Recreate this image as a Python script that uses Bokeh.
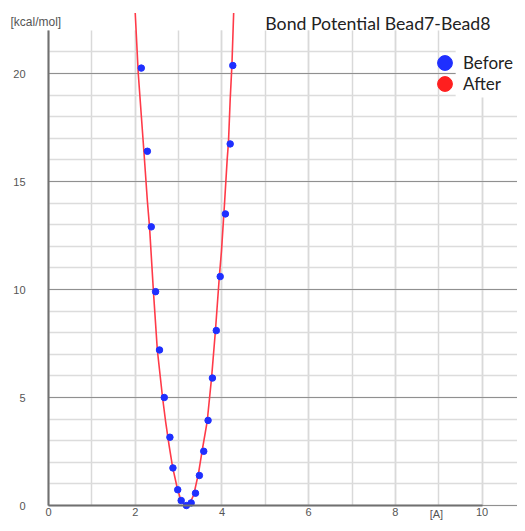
from bokeh.plotting import figure
from bokeh.models import FixedTicker, Label, Legend, LegendItem, Range1d, BoxAnnotation
from bokeh.embed import file_html
from bokeh.resources import INLINE

# Before: sampled bond potential (blue points)
x_before = [2.14, 2.28, 2.37, 2.47, 2.56, 2.67, 2.80, 2.87, 2.98, 3.06, 3.18,
            3.29, 3.39, 3.48, 3.58, 3.68, 3.78, 3.87, 3.96, 4.08, 4.19, 4.25]
y_before = [20.25, 16.4, 12.9, 9.9, 7.2, 5.0, 3.16, 1.74, 0.73, 0.23, 0.0,
            0.12, 0.57, 1.39, 2.51, 3.94, 5.9, 8.1, 10.6, 13.5, 16.74, 20.37]

# After: fitted potential (red curve)
x_after = [2.00, 2.07, 2.20, 2.28, 2.33, 2.42, 2.51, 2.63, 2.70, 2.78, 2.86,
           2.97, 3.06, 3.16, 3.26, 3.35, 3.46, 3.54, 3.66, 3.76, 3.85, 3.94,
           3.99, 4.06, 4.12, 4.15, 4.19, 4.23, 4.27]
y_after = [22.8, 20.0, 16.4, 14.1, 12.9, 9.9, 7.2, 5.0, 3.9, 2.8, 1.8,
           0.8, 0.2, 0.0, 0.1, 0.5, 1.5, 2.5, 3.9, 5.9, 8.1, 10.6,
           11.8, 14.0, 16.0, 16.8, 18.8, 20.4, 22.8]

x_ticks = [0, 2, 4, 6, 8, 10]
y_ticks = [0, 5, 10, 15, 20]
x_grid = list(range(0, 12))
y_grid = list(range(0, 22))

title_text = "Bond Potential Bead7-Bead8"
x_unit = "[A]"
y_unit = "[kcal/mol]"

p = figure(width=517, height=523, x_range=Range1d(-1.107, 10.816),
           y_range=Range1d(-0.833, 23.38),
           output_backend="svg", toolbar_location=None,
           min_border_left=0, min_border_right=0, min_border_top=0, min_border_bottom=0)
p.outline_line_color = None
p.background_fill_color = "white"
p.border_fill_color = "white"

p.xaxis.ticker = FixedTicker(ticks=x_ticks, minor_ticks=x_grid)
p.yaxis.ticker = FixedTicker(ticks=y_ticks, minor_ticks=y_grid)

for ax in (p.xaxis, p.yaxis):
    ax.fixed_location = 0
    ax.axis_line_color = "#707070"
    ax.axis_line_width = 2
    ax.major_tick_line_color = None
    ax.minor_tick_line_color = None
    ax.major_tick_out = 0
    ax.major_tick_in = 0
    ax.minor_tick_out = 0
    ax.minor_tick_in = 0
    ax.major_label_text_font = "Liberation Sans"
    ax.major_label_text_font_size = "11px"
    ax.major_label_text_color = "#555555"
p.xaxis.bounds = (0, 10)
p.yaxis.bounds = (0, 22)
p.xaxis.major_label_standoff = 2
p.yaxis.major_label_standoff = 23

p.xgrid.grid_line_color = "#d9d9d9"
p.xgrid.grid_line_width = 1.5
p.xgrid.minor_grid_line_color = "#d9d9d9"
p.xgrid.minor_grid_line_width = 1.5
p.ygrid.grid_line_color = "#909090"
p.ygrid.grid_line_width = 1.2
p.ygrid.minor_grid_line_color = "#dcdcdc"
p.ygrid.minor_grid_line_width = 1.5

p.xgrid.cross_bounds = (0, 22)
p.ygrid.cross_bounds = (0, 11)

# white patch behind the legend text (covers grid only)
p.add_layout(BoxAnnotation(left=9.39, bottom=18.89, fill_color="white", fill_alpha=1,
                           line_alpha=0, level="underlay"))

after_line = p.line(x_after, y_after, line_color="#ff3a48", line_width=1.6)
after_dot = p.scatter(x_after, y_after, size=6, color="#ff1f1f", visible=False)
before_pts = p.scatter(x_before, y_before, size=6.5, color="#1f2fff")

common = dict(glyph_width=37, glyph_height=37, label_text_font="Lato",
              label_text_font_size="17px", label_text_color="#222222",
              label_standoff=0, padding=0, margin=0,
              background_fill_alpha=0, border_line_alpha=0)
leg1 = Legend(items=[LegendItem(label="Before", renderers=[before_pts])],
              location=(426, 442), **common)
leg2 = Legend(items=[LegendItem(label="After", renderers=[after_dot])],
              location=(426, 421), **common)
p.add_layout(leg1, "center")
p.add_layout(leg2, "center")

p.add_layout(Label(x=5.0, y=22.31, text=title_text, text_font="Lato",
                   text_font_size="17.7px", text_color="#222222",
                   text_baseline="middle", text_align="left"))
p.add_layout(Label(x=-0.876, y=22.4, text=y_unit, text_font="Liberation Sans",
                   text_font_size="12px", text_color="#555555",
                   text_baseline="middle", text_align="left"))
p.add_layout(Label(x=8.79, y=-0.4, text=x_unit, text_font="Liberation Sans",
                   text_font_size="11px", text_color="#555555",
                   text_baseline="middle", text_align="left"))

open("out.html", "w").write(file_html(p, INLINE))
